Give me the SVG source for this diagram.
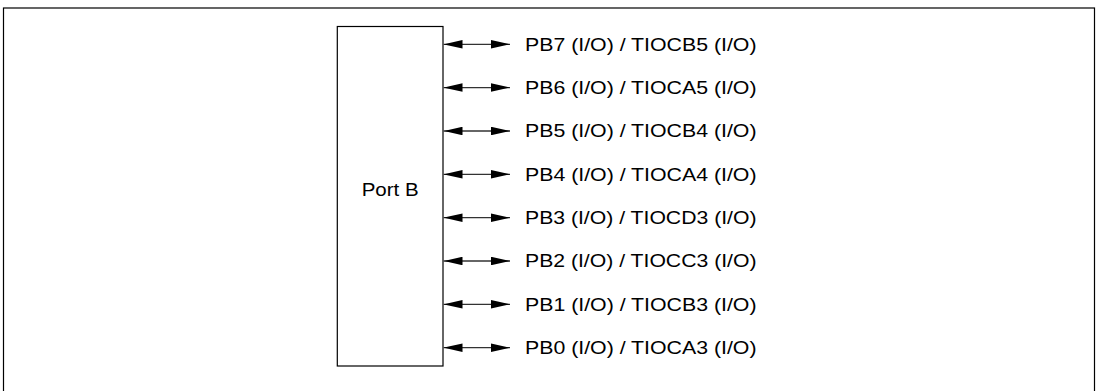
<svg xmlns="http://www.w3.org/2000/svg" width="1098" height="391" viewBox="0 0 1098 391">
<style>
.frame{fill:none;stroke:#000;stroke-width:1.2}
.box{fill:#fff;stroke:#000;stroke-width:1.2}
.wire{stroke:#333;stroke-width:1.3;fill:none;marker-start:url(#ah);marker-end:url(#ah)}
.lbl{font-family:"Liberation Sans",Arial,sans-serif;font-size:19px;fill:#000}
</style>
<defs>
<marker id="ah" viewBox="0 0 19 8.5" refX="19" refY="4.25" markerWidth="19" markerHeight="8.5" markerUnits="userSpaceOnUse" orient="auto-start-reverse">
<path d="M0,0 L19,4.25 L0,8.5 Z" fill="#000"/>
</marker>
</defs>
<rect class="frame" x="3.5" y="8" width="1091" height="400"/>
<g id="portB">
<rect class="box" x="337.3" y="26.5" width="105.7" height="339.5"/>
<text class="lbl" x="361.7" y="195.5" textLength="57" lengthAdjust="spacingAndGlyphs">Port B</text>
</g>
<g id="connectors">
<line class="wire" x1="443.5" y1="44.3" x2="510" y2="44.3"/>
<line class="wire" x1="443.5" y1="87.6" x2="510" y2="87.6"/>
<line class="wire" x1="443.5" y1="131" x2="510" y2="131"/>
<line class="wire" x1="443.5" y1="174.3" x2="510" y2="174.3"/>
<line class="wire" x1="443.5" y1="217.7" x2="510" y2="217.7"/>
<line class="wire" x1="443.5" y1="261" x2="510" y2="261"/>
<line class="wire" x1="443.5" y1="304.3" x2="510" y2="304.3"/>
<line class="wire" x1="443.5" y1="347.7" x2="510" y2="347.7"/>
</g>
<g id="pb7"><text class="lbl" x="525" y="50.7" textLength="231.5" lengthAdjust="spacingAndGlyphs">PB7 (I/O) / TIOCB5 (I/O)</text></g>
<g id="pb6"><text class="lbl" x="525" y="94" textLength="231.5" lengthAdjust="spacingAndGlyphs">PB6 (I/O) / TIOCA5 (I/O)</text></g>
<g id="pb5"><text class="lbl" x="525" y="137.4" textLength="231.5" lengthAdjust="spacingAndGlyphs">PB5 (I/O) / TIOCB4 (I/O)</text></g>
<g id="pb4"><text class="lbl" x="525" y="180.7" textLength="231.5" lengthAdjust="spacingAndGlyphs">PB4 (I/O) / TIOCA4 (I/O)</text></g>
<g id="pb3"><text class="lbl" x="525" y="224.1" textLength="231.5" lengthAdjust="spacingAndGlyphs">PB3 (I/O) / TIOCD3 (I/O)</text></g>
<g id="pb2"><text class="lbl" x="525" y="267.4" textLength="231.5" lengthAdjust="spacingAndGlyphs">PB2 (I/O) / TIOCC3 (I/O)</text></g>
<g id="pb1"><text class="lbl" x="525" y="310.7" textLength="231.5" lengthAdjust="spacingAndGlyphs">PB1 (I/O) / TIOCB3 (I/O)</text></g>
<g id="pb0"><text class="lbl" x="525" y="354.1" textLength="231.5" lengthAdjust="spacingAndGlyphs">PB0 (I/O) / TIOCA3 (I/O)</text></g>
</svg>
